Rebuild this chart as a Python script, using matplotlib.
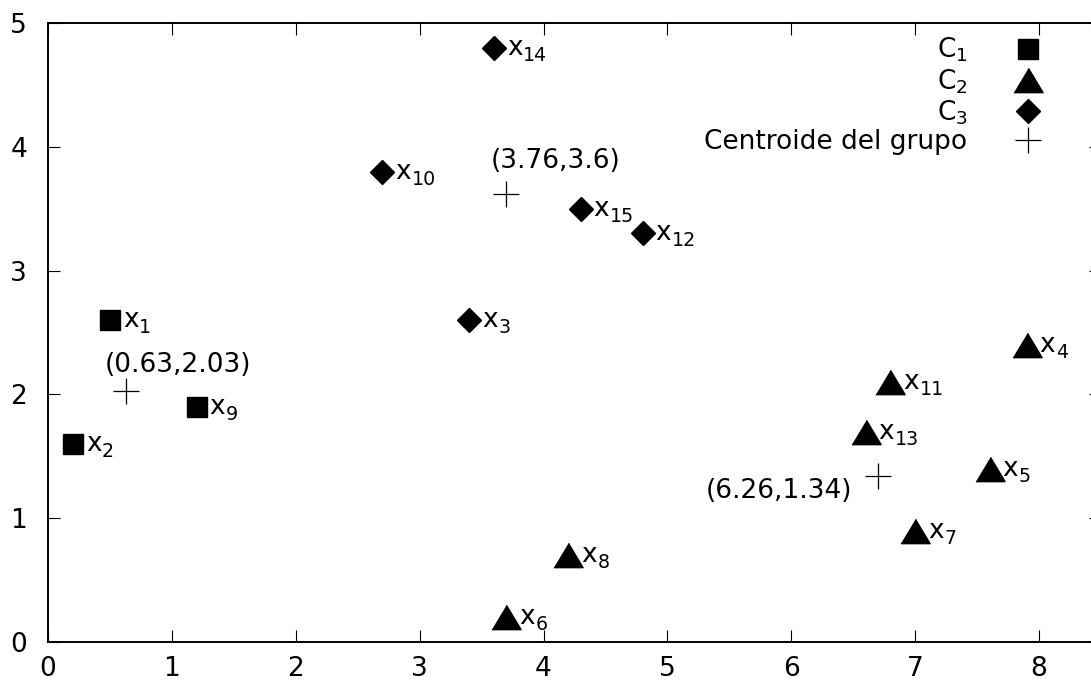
import matplotlib
matplotlib.use('Agg')
import matplotlib.pyplot as plt

plt.rcParams['font.family'] = ['DejaVu Sans']
plt.rcParams['mathtext.default'] = 'regular'

# grupo C1
c1_x = [0.5, 0.2, 1.2]
c1_y = [2.6, 1.6, 1.9]
c1_names = ['1', '2', '9']

# grupo C2
c2_x = [7.9, 7.6, 3.7, 7.0, 4.2, 6.8, 6.6]
c2_y = [2.4, 1.4, 0.2, 0.9, 0.7, 2.1, 1.7]
c2_names = ['4', '5', '6', '7', '8', '11', '13']

# grupo C3
c3_x = [3.4, 2.7, 4.8, 3.6, 4.3]
c3_y = [2.6, 3.8, 3.3, 4.8, 3.5]
c3_names = ['3', '10', '12', '14', '15']

# centroides (posicion dibujada y texto)
cent_x = [0.63, 6.7, 3.7]
cent_y = [2.03, 1.34, 3.62]
cent_text = ['(0.63,2.03)', '(6.26,1.34)', '(3.76,3.6)']

xticks = [0, 1, 2, 3, 4, 5, 6, 7, 8]
yticks = [0, 1, 2, 3, 4, 5]

FS = 19
SUB = 13.7
tri = [(-1.2, -1), (1.2, -1), (0, 1)]

fig = plt.figure(figsize=(10.91, 6.87), dpi=100)
ax = fig.add_axes([0.044, 0.0655, 0.9652, 0.901])

ax.plot(c1_x, c1_y, 's', color='black', ms=15, ls='none', label=r'C$_1$')
ax.plot(c2_x, c2_y, marker=tri, color='black', ms=21, ls='none', label=r'C$_2$')
ax.plot(c3_x, c3_y, 'D', color='black', ms=12.5, ls='none', label=r'C$_3$')
ax.plot(cent_x, cent_y, '+', color='black', ms=19, mew=0.9, ls='none',
        label='Centroide del grupo')

# etiquetas x_i con subindice a mano (como gnuplot)
for xs, ys, names in [(c1_x, c1_y, c1_names), (c2_x, c2_y, c2_names),
                      (c3_x, c3_y, c3_names)]:
    for x, y, n in zip(xs, ys, names):
        ax.annotate('x', (x, y), xytext=(13, -7),
                    textcoords='offset pixels', ha='left', va='baseline',
                    fontsize=FS)
        ax.annotate(n, (x, y), xytext=(29, -13),
                    textcoords='offset pixels', ha='left', va='baseline',
                    fontsize=SUB)

# etiquetas de los centroides
ax.annotate(cent_text[0], (cent_x[0], cent_y[0]), xytext=(-21, 19),
            textcoords='offset pixels', ha='left', va='baseline', fontsize=FS)
ax.annotate(cent_text[1], (cent_x[1], cent_y[1]), xytext=(-26, -22),
            textcoords='offset pixels', ha='right', va='baseline', fontsize=FS)
ax.annotate(cent_text[2], (cent_x[2], cent_y[2]), xytext=(-16, 26),
            textcoords='offset pixels', ha='left', va='baseline', fontsize=FS)

ax.set_xlim(0, 8.5)
ax.set_ylim(0, 5)
ax.set_xticks(xticks)
ax.set_yticks(yticks)
ax.tick_params(direction='in', length=8.6, width=0.8, top=True, right=True,
               labelsize=FS)
ax.tick_params(axis='x', pad=10)
ax.tick_params(axis='y', pad=15)
for s in ax.spines.values():
    s.set_linewidth(1.4)

ax.legend(loc='upper right', bbox_to_anchor=(1048 / 1091, 1 - 36 / 687),
          bbox_transform=fig.transFigure, frameon=False, markerfirst=False,
          fontsize=FS, handlelength=1.5, handletextpad=1.55, labelspacing=0.1,
          borderpad=0, borderaxespad=0)

fig.savefig('out.png', dpi=100)
